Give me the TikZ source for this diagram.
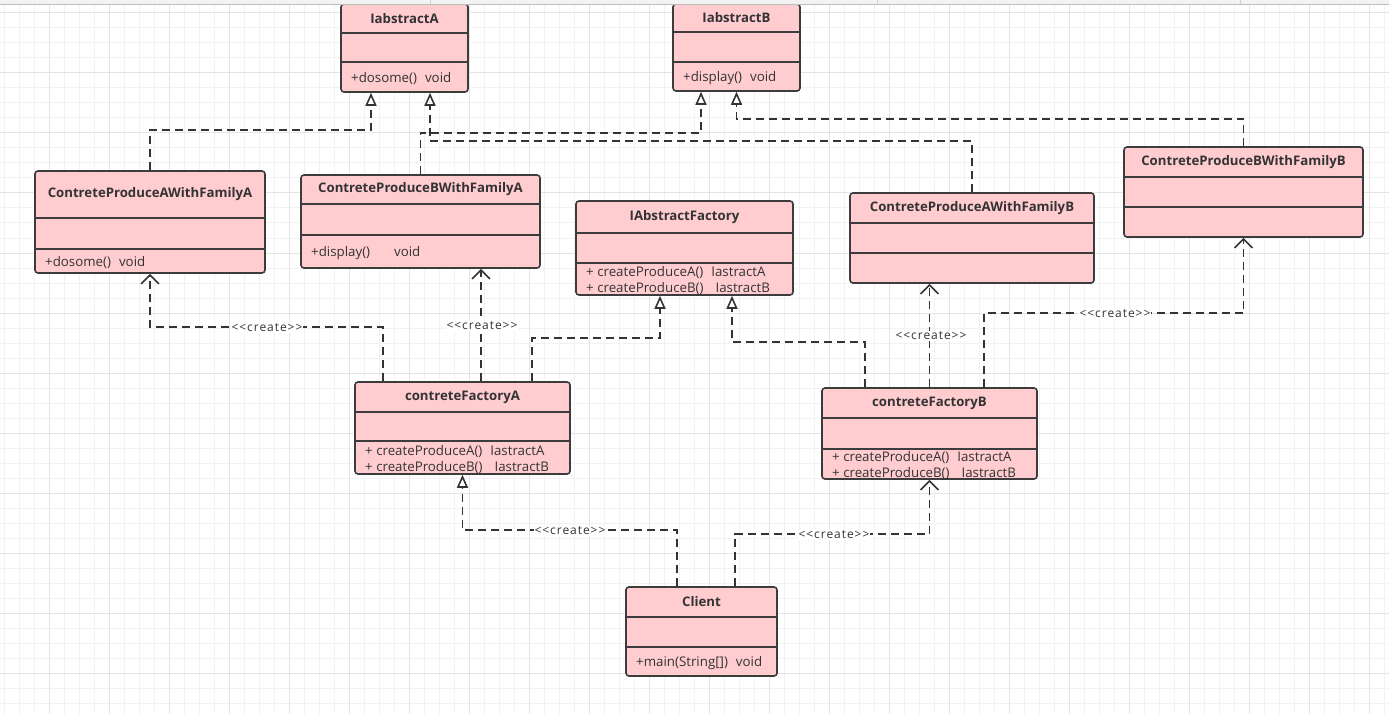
\documentclass[tikz,border=0pt]{standalone}
\usepackage{fontspec}
\setmainfont{Open Sans}
\newfontfamily\lblfont[LetterSpace=8]{Open Sans}
\usetikzlibrary{arrows.meta}
\definecolor{boxfill}{RGB}{255,204,208}
\definecolor{boxline}{RGB}{60,60,60}
\definecolor{conn}{RGB}{51,51,51}
\definecolor{txt}{RGB}{51,51,51}
\definecolor{gminorc}{RGB}{242,242,242}
\definecolor{gmajorc}{RGB}{228,228,228}
\definecolor{stripfill}{RGB}{243,243,243}
\definecolor{stripsep}{RGB}{210,210,210}
\definecolor{stripline}{RGB}{190,190,190}
\tikzset{
  gminor/.style={draw=gminorc, line width=1pt},
  gmajor/.style={draw=gmajorc, line width=1pt},
  classbox/.style={draw=boxline, fill=boxfill, line width=1.6pt, rounded corners=3pt, inner sep=0pt},
  divline/.style={draw=boxline, line width=1.6pt},
  titletext/.style={text=txt, font=\bfseries\fontsize{13.2}{15}\selectfont, inner sep=0pt},
  methtext/.style={text=txt, font=\fontsize{13.3}{16}\selectfont, inner sep=0pt, anchor=west, align=left},
  conline/.style={draw=conn, line width=1.8pt, dash pattern=on 8pt off 5pt},
  realize/.style={conline, -{Triangle[open, length=13pt, width=11pt, line width=1.6pt]}},
  create/.style={conline, -{Straight Barb[length=9pt, width=18pt, line width=1.6pt]}},
  lbl/.style={fill=white, text=txt, font=\lblfont\fontsize{12}{13}\selectfont, inner sep=1pt},
}
% #1 name, #2 x1, #3 y1, #4 x2, #5 y2, #6 d1, #7 d2, #8 title, #9 methods
\newcommand\umlclass[9]{%
  \node[classbox, minimum width={#4-#2}, minimum height={#5-#3}] (#1) at ({(#2+#4)/2},{(#3+#5)/2}) {};
  \draw[divline] (#2,#6) -- (#4,#6);
  \draw[divline] (#2,#7) -- (#4,#7);
  \node[titletext] (#1-t) at ({(#2+#4)/2},{(#3+#6)/2}) {#8};
  \node[methtext] (#1-m) at ({#2+10},{(#7+#5)/2+1.5}) {#9};
}
\begin{document}
\begin{tikzpicture}[x=1pt,y=-1pt]
\useasboundingbox (0,0) rectangle (1389,714);
\fill[white] (0,0) rectangle (1389,714);
% grid
\foreach \x in {4,19,...,1389} \draw[gminor] (\x,0) -- (\x,714);
\foreach \y in {13,28,...,714} \draw[gminor] (0,\y) -- (1389,\y);
\foreach \x in {49,109,...,1389} \draw[gmajor] (\x,0) -- (\x,714);
\foreach \y in {13,73,...,714} \draw[gmajor] (0,\y) -- (1389,\y);

% classes
\umlclass{ia}{341}{4}{468}{92}{33}{62}{IabstractA}{+dosome()\hspace{8pt}void}
\umlclass{ib}{673}{4}{800}{91}{32}{62}{IabstractB}{+display()\hspace{8pt}void}
\umlclass{cpaa}{35}{171}{265}{273}{218}{249}{ContreteProduceAWithFamilyA}{+dosome()\hspace{8pt}void}
\umlclass{cpba}{301}{175}{540}{268}{204}{235}{ContreteProduceBWithFamilyA}{+display()\hspace{24pt}void}
\umlclass{iaf}{576}{201}{793}{295}{233}{263}{IAbstractFactory}{+ createProduceA()\hspace{8pt}IastractA\\+ createProduceB()\hspace{12pt}IastractB}
\umlclass{cpab}{850}{193}{1094}{283}{223}{253}{ContreteProduceAWithFamilyB}{}
\umlclass{cpbb}{1124}{147}{1363}{237}{177}{207}{ContreteProduceBWithFamilyB}{}
\umlclass{cfa}{355}{382}{570}{474}{412}{441}{contreteFactoryA}{+ createProduceA()\hspace{8pt}IastractA\\+ createProduceB()\hspace{12pt}IastractB}
\umlclass{cfb}{822}{388}{1037}{479}{418}{449}{contreteFactoryB}{+ createProduceA()\hspace{8pt}IastractA\\+ createProduceB()\hspace{12pt}IastractB}
\umlclass{client}{626}{587}{777}{676}{617}{647}{Client}{+main(String[])\hspace{8pt}void}

% realizations to abstract products
\draw[realize] (cpaa.north) -- (150,130) -| ([xshift=-33.5]ia.south);
\draw[realize] (cpba.north) -- (420.5,133) -| ([xshift=-35.5]ib.south);
\draw[realize] (cpab.north) -- (972,141) -| ([xshift=25.5]ia.south);
\draw[realize] (cpbb.north) -- (1243.5,119) -| (ib.south);

% factory A
\draw[create] ([xshift=-79.5]cfa.north) -- (383,327) -| (cpaa.south);
\draw[create] ([xshift=18.5]cfa.north) -- ([xshift=60.5]cpba.south);
\draw[realize] ([xshift=69.5]cfa.north) -- (532,338) -| ([xshift=-24.5]iaf.south);

% factory B
\draw[realize] ([xshift=-64.5]cfb.north) -- (865,342) -| ([xshift=47.5]iaf.south);
\draw[create] (cfb.north) -- ([xshift=-42.5]cpab.south);
\draw[create] ([xshift=54.5]cfb.north) -- (984,313) -| (cpbb.south);

% client
\draw[realize] ([xshift=-24.5]client.north) -- (677,530) -| (cfa.south);
\draw[create] ([xshift=33.5]client.north) -- (735,534) -| (cfb.south);

% labels
\node[lbl] (l1) at (267,328) {<<create>>};
\node[lbl] (l2) at (482,326) {<<create>>};
\node[lbl] (l3) at (931,336) {<<create>>};
\node[lbl] (l4) at (1115,314) {<<create>>};
\node[lbl] (l5) at (570,531) {<<create>>};
\node[lbl] (l6) at (834,535) {<<create>>};

% top strip
\fill[stripfill] (0,0) rectangle (1389,4);
\foreach \x in {430,877,1240} \draw[stripsep, line width=1pt] (\x,0) -- (\x,4);
\draw[stripline, line width=1pt] (0,4.5) -- (1389,4.5);
\end{tikzpicture}
\end{document}
